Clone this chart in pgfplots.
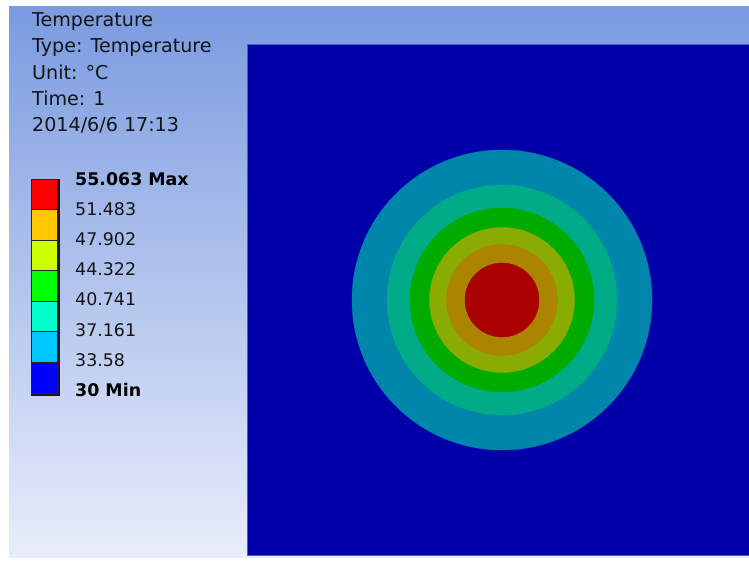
\documentclass[border=0pt]{standalone}
\usepackage{pgfplots}
\pgfplotsset{compat=1.18}
\usepackage{pgfplotstable}
\usepackage{fontspec}
\setmainfont{DejaVu Sans}
\definecolor{bgtop}{RGB}{122,155,224}
\definecolor{bgbot}{RGB}{233,237,250}
\definecolor{plate}{RGB}{0,0,168}
\definecolor{plateedge}{RGB}{72,92,214}
\definecolor{txt}{RGB}{20,20,20}
\definecolor{lbred}{RGB}{255,0,0}
\definecolor{lborange}{RGB}{255,200,0}
\definecolor{lbyellow}{RGB}{204,255,0}
\definecolor{lbgreen}{RGB}{0,255,0}
\definecolor{lbteal}{RGB}{0,255,204}
\definecolor{lbcyan}{RGB}{0,200,255}
\definecolor{lbblue}{RGB}{0,0,255}
\definecolor{ringA}{RGB}{0,134,171}
\definecolor{ringB}{RGB}{0,171,136}
\definecolor{ringC}{RGB}{0,171,0}
\definecolor{ringD}{RGB}{138,171,0}
\definecolor{ringE}{RGB}{171,132,0}
\definecolor{ringF}{RGB}{171,0,0}
\newcommand\hdr{\fontsize{19.1}{20}\selectfont}
\newcommand\lgd{\fontsize{17.4}{20}\selectfont}

% concentric temperature bands: centre, radius, colour class
\pgfplotstableread{
x y r col
502 260 150 ringA
502 260 115 ringB
502 260 92 ringC
502 260 72.5 ringD
502 260 55.5 ringE
502 260 37 ringF
}\rings

\begin{document}
\begin{tikzpicture}
\begin{axis}[
  x=1pt, y=1pt,
  xmin=0, xmax=749, ymin=0, ymax=560,
  hide axis,
]
% page and gradient background
\fill[white] (axis cs:0,0) rectangle (axis cs:749,560);
\shade[top color=bgtop, bottom color=bgbot] (axis cs:9,3) rectangle (axis cs:749,553);

% plate
\addplot[fill=plate, draw=plateedge, line width=1pt] coordinates {(247,5) (760,5) (760,515) (247,515)} -- cycle;

% temperature rings
\addplot[
  scatter, only marks, mark=*,
  scatter src=explicit symbolic,
  scatter/classes={
    ringA={mark=*, fill=ringA, draw=ringA},
    ringB={mark=*, fill=ringB, draw=ringB},
    ringC={mark=*, fill=ringC, draw=ringC},
    ringD={mark=*, fill=ringD, draw=ringD},
    ringE={mark=*, fill=ringE, draw=ringE},
    ringF={mark=*, fill=ringF, draw=ringF}},
  visualization depends on={\thisrow{r} \as \rad},
  scatter/@pre marker code/.append style={/tikz/mark size=\rad, /tikz/line width=0pt},
] table[x=x, y=y, meta=col] {\rings};

% header text
\node[anchor=base west, text=txt, font=\hdr, inner sep=0pt] at (axis cs:32,533) {Temperature};
\node[anchor=base west, text=txt, font=\hdr, inner sep=0pt] at (axis cs:32,507) {Type: Temperature};
\node[anchor=base west, text=txt, font=\hdr, inner sep=0pt] at (axis cs:32,480) {Unit: °C};
\node[anchor=base west, text=txt, font=\hdr, inner sep=0pt] at (axis cs:32,454) {Time: 1};
\node[anchor=base west, text=txt, font=\hdr, inner sep=0pt] at (axis cs:32,428) {2014/6/6 17:13};

% colour legend
\fill[black!90] (axis cs:31,164.5) rectangle (axis cs:59.5,381);
\filldraw[fill=lbred,    draw=black!85, line width=0.9pt] (axis cs:31,381)    rectangle (axis cs:57,350.43);
\filldraw[fill=lborange, draw=black!85, line width=0.9pt] (axis cs:31,350.43) rectangle (axis cs:57,319.86);
\filldraw[fill=lbyellow, draw=black!85, line width=0.9pt] (axis cs:31,319.86) rectangle (axis cs:57,289.29);
\filldraw[fill=lbgreen,  draw=black!85, line width=0.9pt] (axis cs:31,289.29) rectangle (axis cs:57,258.71);
\filldraw[fill=lbteal,   draw=black!85, line width=0.9pt] (axis cs:31,258.71) rectangle (axis cs:57,228.14);
\filldraw[fill=lbcyan,   draw=black!85, line width=0.9pt] (axis cs:31,228.14) rectangle (axis cs:57,197.57);
\filldraw[fill=lbblue,   draw=black!85, line width=0.9pt] (axis cs:31,197.57) rectangle (axis cs:57,167);

\node[anchor=base west, text=black, font=\lgd\bfseries, inner sep=0pt] at (axis cs:75,374) {55.063 Max};
\node[anchor=base west, text=txt, font=\lgd, inner sep=0pt] at (axis cs:75,344) {51.483};
\node[anchor=base west, text=txt, font=\lgd, inner sep=0pt] at (axis cs:75,314) {47.902};
\node[anchor=base west, text=txt, font=\lgd, inner sep=0pt] at (axis cs:75,284) {44.322};
\node[anchor=base west, text=txt, font=\lgd, inner sep=0pt] at (axis cs:75,254) {40.741};
\node[anchor=base west, text=txt, font=\lgd, inner sep=0pt] at (axis cs:75,224) {37.161};
\node[anchor=base west, text=txt, font=\lgd, inner sep=0pt] at (axis cs:75,194) {33.58};
\node[anchor=base west, text=black, font=\lgd\bfseries, inner sep=0pt] at (axis cs:75,164) {30 Min};
\end{axis}
\end{tikzpicture}
\end{document}
